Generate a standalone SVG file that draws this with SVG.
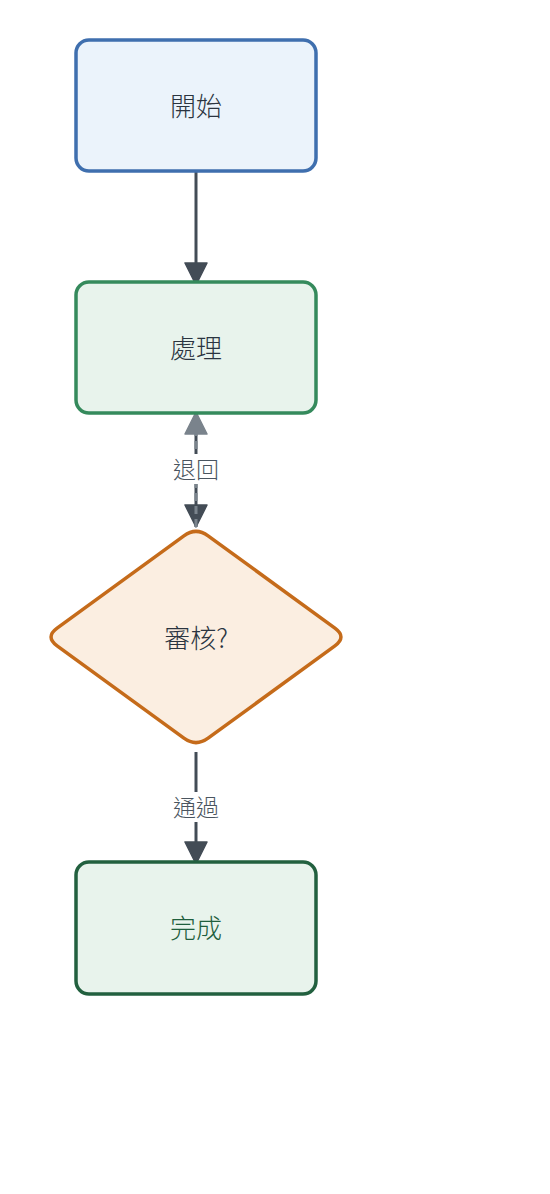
<svg xmlns="http://www.w3.org/2000/svg" width="550" height="1194" viewBox="0 0 550 1194">
<style>
.node text{font-family:"Noto Sans CJK TC","Noto Sans CJK SC",sans-serif;font-size:26px;font-weight:300;text-anchor:middle;dominant-baseline:central;fill:#2a3440}
.lbl{font-family:"Noto Sans CJK TC","Noto Sans CJK SC",sans-serif;font-size:23px;font-weight:300;text-anchor:middle;dominant-baseline:central;fill:#4a5560}
.edge{fill:none;stroke:#434c56;stroke-width:3}
.back{fill:none;stroke:#7a838c;stroke-width:3;stroke-dasharray:8 5}
</style>
<defs>
<marker id="ah" markerUnits="userSpaceOnUse" viewBox="0 0 24 24" markerWidth="24" markerHeight="24" refX="23" refY="12" orient="auto">
<path d="M1,1 L23,12 L1,23 z" fill="#434c56" stroke="#434c56" stroke-width="1.5" stroke-linejoin="round"/>
</marker>
<marker id="ahg" markerUnits="userSpaceOnUse" viewBox="0 0 24 24" markerWidth="24" markerHeight="24" refX="23" refY="12" orient="auto">
<path d="M1,1 L23,12 L1,23 z" fill="#7a838c" stroke="#7a838c" stroke-width="1.5" stroke-linejoin="round"/>
</marker>
</defs>
<rect width="550" height="1194" fill="#ffffff"/>
<g id="connectors">
<line class="edge" x1="196" y1="172" x2="196" y2="285" marker-end="url(#ah)"/>
<line class="edge" x1="196" y1="414" x2="196" y2="527" marker-end="url(#ah)"/>
<line class="back" x1="196" y1="527" x2="196" y2="412" marker-end="url(#ahg)"/>
<rect x="169" y="454" width="54" height="30" fill="#ffffff"/>
<text class="lbl" x="196" y="468">退回</text>
<line class="edge" x1="196" y1="752" x2="196" y2="864" marker-end="url(#ah)"/>
<rect x="169" y="792" width="54" height="30" fill="#ffffff"/>
<text class="lbl" x="196" y="806">通過</text>
</g>
<g id="start" class="node">
<rect x="76" y="40" width="240" height="131" rx="13" fill="#ebf3fb" stroke="#3f6fae" stroke-width="3.5"/>
<text x="196" y="104">開始</text>
</g>
<g id="process" class="node">
<rect x="76" y="282" width="240" height="131" rx="13" fill="#e8f3ec" stroke="#358a5c" stroke-width="3.5"/>
<text x="196" y="346">處理</text>
</g>
<g id="review" class="node">
<path d="M208.1,535.8 L334.9,628.2 Q347,637 334.9,645.8 L208.1,738.2 Q196,747 183.9,738.2 L57.1,645.8 Q45,637 57.1,628.2 L183.9,535.8 Q196,527 208.1,535.8 Z" fill="#fbeee1" stroke="#c56b1a" stroke-width="3.5"/>
<text x="196" y="636">審核?</text>
</g>
<g id="done" class="node">
<rect x="76" y="862" width="240" height="132" rx="13" fill="#e8f3ec" stroke="#22603f" stroke-width="3.5"/>
<text x="196" y="926" style="fill:#1f5e3d">完成</text>
</g>
</svg>
